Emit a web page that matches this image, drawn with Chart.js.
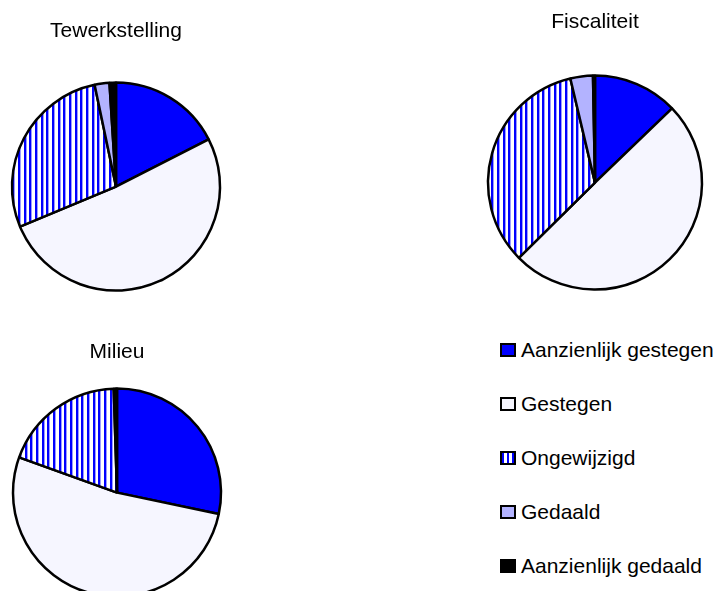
<!DOCTYPE html>
<html>
<head>
<meta charset="utf-8">
<script src="https://cdn.jsdelivr.net/npm/chart.js@4.4.0/dist/chart.umd.min.js"></script>
<style>
  body { margin: 0; width: 717px; height: 591px; overflow: hidden; background: #fff; position: relative; font-family: "Liberation Sans", Arial, sans-serif; }
  canvas { position: absolute; }
  #legend { position: absolute; left: 500px; top: 323px; margin: 0; padding: 0; list-style: none; }
  #legend li { height: 54px; display: flex; align-items: center; font-size: 21px; color: #000; white-space: nowrap; }
  #legend .box { width: 16px; height: 14px; box-sizing: border-box; border: 2px solid #000; margin-right: 5px; }
</style>
</head>
<body>
<canvas id="tewerkstelling" width="230" height="319" style="left:1px;top:0px"></canvas>
<canvas id="fiscaliteit" width="230" height="320" style="left:480px;top:0px"></canvas>
<canvas id="milieu" width="230" height="290" style="left:2px;top:320px"></canvas>
<ul id="legend"></ul>
<script>
const categories = ['Aanzienlijk gestegen', 'Gestegen', 'Ongewijzigd', 'Gedaald', 'Aanzienlijk gedaald'];
const tewerkstelling = [17.5, 51.2, 28.0, 2.3, 1.0];
const fiscaliteit = [12.8, 49.8, 33.7, 3.4, 0.3];
const milieu = [28.3, 52.2, 19.0, 0, 0.5];

const BLUE = '#0000ff';
const PALE = '#f6f6ff';
const LAVENDER = '#b3b3ff';

// vertical blue/white stripes for "Ongewijzigd"
function stripes() {
  const c = document.createElement('canvas');
  c.width = 17;
  c.height = 4;
  const g = c.getContext('2d');
  g.fillStyle = '#fff';
  g.fillRect(0, 0, 17, 4);
  [0, 6, 11].forEach((x) => {
    g.fillStyle = BLUE;
    g.fillRect(x, 0, 2, 4);
    g.fillStyle = '#9a9aff';
    g.fillRect(x + 2, 0, 1, 4);
  });
  return g.createPattern(c, 'repeat');
}

function makePie(id, title, values, radius, padTop, padBottom) {
  const ctx = document.getElementById(id).getContext('2d');
  return new Chart(ctx, {
    type: 'pie',
    data: {
      labels: categories,
      datasets: [{
        data: values,
        backgroundColor: [BLUE, PALE, stripes(), LAVENDER, '#000'],
        borderColor: '#000',
        borderWidth: 2.5,
        hoverBorderWidth: 2.5,
      }],
    },
    options: {
      responsive: false,
      animation: false,
      events: [],
      devicePixelRatio: 1,
      radius: radius,
      plugins: {
        legend: { display: false },
        tooltip: { enabled: false },
        title: {
          display: true,
          text: title,
          color: '#000',
          font: { family: '"Liberation Sans", Arial, sans-serif', size: 21, weight: 'normal', lineHeight: 1.2 },
          padding: { top: padTop, bottom: padBottom },
        },
      },
    },
  });
}

makePie('tewerkstelling', 'Tewerkstelling', tewerkstelling, 104, 19, 10);
makePie('fiscaliteit', 'Fiscaliteit', fiscaliteit, 107, 10, 10);
makePie('milieu', 'Milieu', milieu, 104, 20, 10);

// legend
const swatches = [BLUE, PALE, 'repeating-linear-gradient(90deg, #00f 0 2px, #fff 2px 5px)', LAVENDER, '#000'];
const legend = document.getElementById('legend');
categories.forEach((name, i) => {
  const li = document.createElement('li');
  const box = document.createElement('span');
  box.className = 'box';
  box.style.background = swatches[i];
  li.appendChild(box);
  li.appendChild(document.createTextNode(name));
  legend.appendChild(li);
});
</script>
</body>
</html>
